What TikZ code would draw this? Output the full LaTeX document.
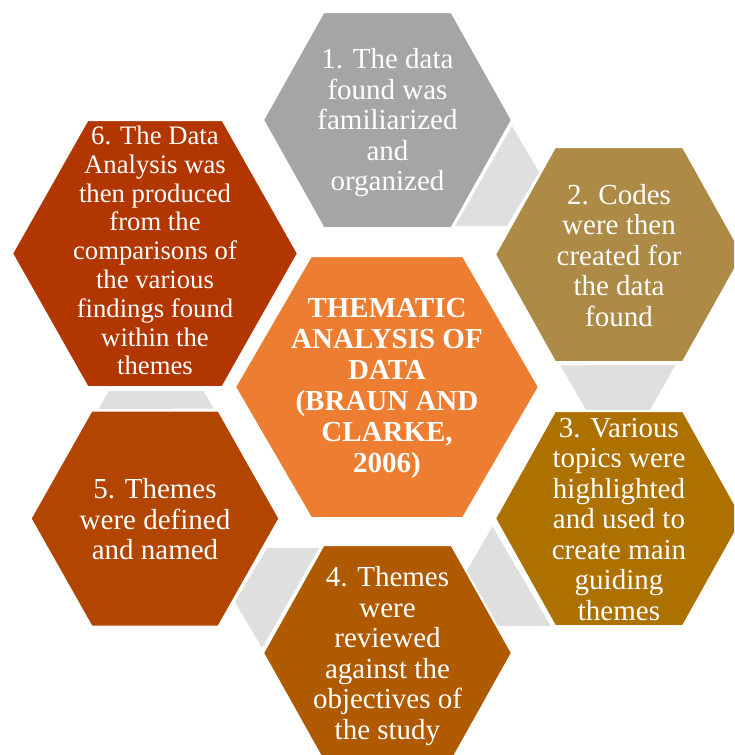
\documentclass[tikz,border=0pt]{standalone}
\usepackage{fontspec}
\setmainfont{LiberationSerif}[Extension=.ttf, UprightFont=*-Regular, BoldFont=*-Bold, ItalicFont=*-Italic, BoldItalicFont=*-BoldItalic]
\definecolor{cgray}{HTML}{A5A5A5}
\definecolor{ctwo}{HTML}{AD8A46}
\definecolor{cthree}{HTML}{AD7100}
\definecolor{cfour}{HTML}{B05A00}
\definecolor{cfive}{HTML}{B24500}
\definecolor{csix}{HTML}{B23600}
\definecolor{ccenter}{HTML}{ED7D31}
\definecolor{cconn}{HTML}{DFDFDF}
\newcommand\hexag[6]{%
  \filldraw[fill=#1, draw=white, line width=2] ({#2-#4},#3) -- ({#2-#5},{#3-#6}) -- ({#2+#5},{#3-#6}) -- ({#2+#4},#3) -- ({#2+#5},{#3+#6}) -- ({#2-#5},{#3+#6}) -- cycle;}
\tikzset{
  lbl/.style={text=white, align=center, inner sep=0pt, font=\rmfamily\fontsize{29}{30.5}\selectfont},
  lblsmall/.style={text=white, align=center, inner sep=0pt, font=\rmfamily\fontsize{26.7}{28.8}\selectfont},
  lblbold/.style={text=white, align=center, inner sep=0pt, font=\rmfamily\fontsize{29}{31}\selectfont\bfseries},
  connshape/.style={fill=cconn}
}
\begin{document}
\begin{tikzpicture}[x=1pt,y=-1pt]
\useasboundingbox (0,0) rectangle (734,755);
\clip (0,0) rectangle (734,755);
% connectors
\foreach \k in {0,1,2,3}{
  \begin{scope}[shift={(387,387)}, rotate=-60*\k]
    \fill[connshape] (125,-261) -- (152,-215) -- (120,-161) -- (68,-161) -- cycle;
  \end{scope}
}
\fill[connshape] (108.9,391) -- (203.4,391) -- (213.6,408.6) -- (98.5,409) -- cycle;
% hexagons
\hexag{cgray}{387.5}{120}{124.5}{64}{108}
\hexag{ctwo}{619}{254.5}{124}{64}{107.5}
\hexag{cthree}{619}{518.5}{124}{64}{107.5}
\hexag{cfour}{387.5}{653}{124.5}{64}{108}
\hexag{cfive}{155}{518.5}{124.5}{63.5}{108}
\hexag{csix}{155}{253.5}{143}{67.5}{133.5}
\hexag{ccenter}{387}{387}{152}{76}{131}
% texts
\node[lbl] (t1) at (387.5,123) {1. The data\\found was\\familiarized\\and\\organized};
\node[lbl] (t2) at (619,255.5) {2. Codes\\were then\\created for\\the data\\found};
\node[lbl] (t3) at (619,519.5) {3. Various\\topics were\\highlighted\\and used to\\create main\\guiding\\themes};
\node[lbl] (t4) at (387.5,656) {4. Themes\\were\\reviewed\\against the\\objectives of\\the study};
\node[lbl] (t5) at (155,519.5) {5. Themes\\were defined\\and named};
\node[lblsmall] (t6) at (155,250.5) {6. The Data\\Analysis was\\then produced\\from the\\comparisons of\\the various\\findings found\\within the\\themes};
\node[lblbold] (tc) at (387,388) {THEMATIC\\ANALYSIS OF\\DATA\\(BRAUN AND\\CLARKE,\\2006)};
\end{tikzpicture}
\end{document}
